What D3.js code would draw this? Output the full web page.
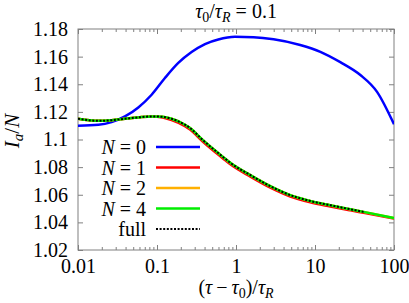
<!DOCTYPE html>
<html>
<head>
<meta charset="utf-8">
<script src="https://cdn.jsdelivr.net/npm/d3@7"></script>
<style>
  body { margin: 0; background: #fff; }
  text { font-family: "Liberation Serif", "DejaVu Serif", serif; fill: #000; }
  .axis path { display: none; }
  .axis line { stroke: #808080; }
</style>
</head>
<body>
<svg id="chart"></svg>
<script>
// chart values
var blueT = [0.01, 0.0181, 0.0266, 0.0393, 0.058, 0.0855, 0.126, 0.186, 0.274, 0.405, 0.597, 0.97, 1.67, 2.99, 6.5, 11.7, 20.9, 37.5, 61, 100];
var blueV = [1.1099, 1.1106, 1.1126, 1.1167, 1.1232, 1.1324, 1.1445, 1.1554, 1.1633, 1.1691, 1.1724, 1.1743, 1.1740, 1.1725, 1.1684, 1.1635, 1.1560, 1.1467, 1.1345, 1.1110];

var nT = [0.01, 0.0181, 0.0266, 0.0393, 0.058, 0.0855, 0.118, 0.153, 0.226, 0.262, 0.382, 0.684, 0.848, 1.52, 2.72, 4.87, 8.71, 15.6, 28, 41.2, 100];
var redV = [1.1150, 1.1135, 1.1140, 1.1150, 1.1160, 1.1167, 1.1160, 1.1141, 1.1097, 1.1072, 1.0984, 1.0863, 1.0820, 1.0731, 1.0651, 1.0587, 1.0545, 1.0515, 1.0487, 1.0469, 1.0427];
var orangeV = [1.1150, 1.1135, 1.1140, 1.1150, 1.1160, 1.1167, 1.1164, 1.1150, 1.1107, 1.1083, 1.0995, 1.0874, 1.0831, 1.0742, 1.0662, 1.0597, 1.0555, 1.0524, 1.0495, 1.0476, 1.0432];
var greenV = [1.1150, 1.1135, 1.1140, 1.1150, 1.1160, 1.1167, 1.1164, 1.1150, 1.1107, 1.1083, 1.0995, 1.0874, 1.0831, 1.0742, 1.0662, 1.0597, 1.0555, 1.0524, 1.0495, 1.0476, 1.0432];

var fullT = [0.01, 0.0181, 0.0266, 0.0393, 0.058, 0.0855, 0.118, 0.153, 0.226, 0.262, 0.382, 0.684, 0.848, 1.52, 2.72, 4.87, 8.71, 15.6, 28, 41.2];
var fullV = [1.1150, 1.1135, 1.1140, 1.1150, 1.1160, 1.1167, 1.1164, 1.1150, 1.1107, 1.1083, 1.0995, 1.0874, 1.0831, 1.0742, 1.0662, 1.0597, 1.0555, 1.0524, 1.0495, 1.0476];

var xTicks = [0.01, 0.1, 1, 10, 100];
var xTickLabels = ["0.01", "0.1", "1", "10", "100"];
var yTicks = [1.02, 1.04, 1.06, 1.08, 1.1, 1.12, 1.14, 1.16, 1.18];
var yTickLabels = ["1.02", "1.04", "1.06", "1.08", "1.1", "1.12", "1.14", "1.16", "1.18"];

var legendNames = ["0", "1", "2", "4", "full"];

var width = 409, height = 303;
var margin = {left: 78, right: 15, top: 29, bottom: 53};

var svg = d3.select('#chart')
    .attr('width', width)
    .attr('height', height);

var xScale = d3.scaleLog().domain([0.01, 100]).range([margin.left, width - margin.right]);
var yScale = d3.scaleLinear().domain([1.02, 1.18]).range([height - margin.bottom, margin.top]);

// minor ticks 2..9 per decade
var minorTicks = [];
[0.01, 0.1, 1, 10].forEach(function(d) {
    for (var k = 2; k < 10; k++) minorTicks.push(d * k);
});

var x0 = margin.left, x1 = width - margin.right;
var y0 = margin.top, y1 = height - margin.bottom;

// bottom axis
svg.append('g')
    .attr('class', 'axis')
    .attr('transform', 'translate(0,' + y1 + ')')
    .call(d3.axisBottom(xScale).tickValues(xTicks).tickSize(-5).tickPadding(9)
        .tickFormat(function(d, i) { return xTickLabels[i]; }))
    .selectAll('text').style('font-size', '20px').attr('fill', '#000')
    .style('font-family', '"Liberation Serif", serif');

svg.append('g')
    .attr('class', 'axis')
    .attr('transform', 'translate(0,' + y1 + ')')
    .call(d3.axisBottom(xScale).tickValues(minorTicks).tickSize(-3).tickFormat(''));

// top axis
svg.append('g')
    .attr('class', 'axis')
    .attr('transform', 'translate(0,' + y0 + ')')
    .call(d3.axisTop(xScale).tickValues(xTicks).tickSize(-5).tickFormat(''));

svg.append('g')
    .attr('class', 'axis')
    .attr('transform', 'translate(0,' + y0 + ')')
    .call(d3.axisTop(xScale).tickValues(minorTicks).tickSize(-3).tickFormat(''));

// left axis
svg.append('g')
    .attr('class', 'axis')
    .attr('transform', 'translate(' + x0 + ',0)')
    .call(d3.axisLeft(yScale).tickValues(yTicks).tickSize(-5).tickPadding(10)
        .tickFormat(function(d, i) { return yTickLabels[i]; }))
    .selectAll('text').style('font-size', '20px').attr('fill', '#000')
    .style('font-family', '"Liberation Serif", serif');

// right axis
svg.append('g')
    .attr('class', 'axis')
    .attr('transform', 'translate(' + x1 + ',0)')
    .call(d3.axisRight(yScale).tickValues(yTicks).tickSize(-5).tickFormat(''));

// frame
svg.append('rect')
    .attr('x', x0).attr('y', y0)
    .attr('width', x1 - x0).attr('height', y1 - y0)
    .attr('fill', 'none')
    .attr('stroke', '#808080')
    .attr('stroke-width', 1);

svg.append('clipPath').attr('id', 'clip')
    .append('rect')
    .attr('x', x0).attr('y', y0)
    .attr('width', x1 - x0).attr('height', y1 - y0);

var line = d3.line()
    .x(function(d) { return xScale(d[0]); })
    .y(function(d) { return yScale(d[1]); })
    .curve(d3.curveMonotoneX);

function zip(ts, vs) {
    return ts.map(function(t, i) { return [t, vs[i]]; });
}

var series = [
    {name: "0", data: zip(blueT, blueV), color: "#0000ff", width: 2.5, dash: null},
    {name: "1", data: zip(nT, redV), color: "#ff0000", width: 2.5, dash: null},
    {name: "2", data: zip(nT, orangeV), color: "#ffb000", width: 2.5, dash: null},
    {name: "4", data: zip(nT, greenV), color: "#00ee00", width: 2.5, dash: null},
    {name: "full", data: zip(fullT, fullV), color: "#000000", width: 2, dash: "2,1.6"}
];

var plot = svg.append('g').attr('clip-path', 'url(#clip)');

plot.selectAll('.series')
    .data(series)
    .enter()
    .append('path')
    .attr('class', 'series')
    .attr('d', function(d) { return line(d.data); })
    .attr('fill', 'none')
    .attr('stroke', function(d) { return d.color; })
    .attr('stroke-width', function(d) { return d.width; })
    .attr('stroke-dasharray', function(d) { return d.dash; });

// legend
var legendX = 146, legendY = 147, legendStep = 20.5;
var legend = svg.append('g');

series.forEach(function(s, i) {
    var yy = legendY + i * legendStep;
    var t = legend.append('text')
        .attr('x', legendX)
        .attr('y', yy)
        .attr('dy', '0.35em')
        .attr('text-anchor', 'end')
        .style('font-size', '20px');
    if (s.name === "full") {
        t.text('full');
    } else {
        t.append('tspan').style('font-style', 'italic').text('N');
        t.append('tspan').attr('dx', 5).text('=');
        t.append('tspan').attr('dx', 5).text(s.name);
    }
    legend.append('line')
        .attr('x1', 156).attr('x2', 200)
        .attr('y1', yy).attr('y2', yy)
        .attr('stroke', s.color)
        .attr('stroke-width', s.width)
        .attr('stroke-dasharray', s.dash);
});

// title
var title = svg.append('text')
    .attr('x', (x0 + x1) / 2)
    .attr('y', 18)
    .attr('text-anchor', 'middle')
    .style('font-size', '20px');
title.append('tspan').style('font-style', 'italic').text('τ');
title.append('tspan').attr('dy', 4).style('font-size', '14px').text('0');
title.append('tspan').attr('dy', -4).text('/');
title.append('tspan').style('font-style', 'italic').text('τ');
title.append('tspan').attr('dy', 4).style('font-size', '14px').style('font-style', 'italic').text('R');
title.append('tspan').attr('dy', -4).attr('dx', 5).text('=');
title.append('tspan').attr('dx', 5).text('0.1');

// x label
var xLabel = svg.append('text')
    .attr('x', (x0 + x1) / 2)
    .attr('y', 294)
    .attr('text-anchor', 'middle')
    .style('font-size', '20px');
xLabel.append('tspan').text('(');
xLabel.append('tspan').style('font-style', 'italic').text('τ');
xLabel.append('tspan').attr('dx', 4).text('−');
xLabel.append('tspan').attr('dx', 4).style('font-style', 'italic').text('τ');
xLabel.append('tspan').attr('dy', 4).style('font-size', '14px').text('0');
xLabel.append('tspan').attr('dy', -4).text(')/');
xLabel.append('tspan').style('font-style', 'italic').text('τ');
xLabel.append('tspan').attr('dy', 4).style('font-size', '14px').style('font-style', 'italic').text('R');

// y label
var yLabel = svg.append('text')
    .attr('transform', 'translate(' + 19 + ',' + 131 + ') rotate(-90)')
    .attr('text-anchor', 'middle')
    .style('font-size', '21px');
yLabel.append('tspan').style('font-style', 'italic').text('I');
yLabel.append('tspan').attr('dy', 4).style('font-size', '15px').style('font-style', 'italic').text('a');
yLabel.append('tspan').attr('dy', -4).text('/');
yLabel.append('tspan').style('font-style', 'italic').text('N');
</script>
</body>
</html>
